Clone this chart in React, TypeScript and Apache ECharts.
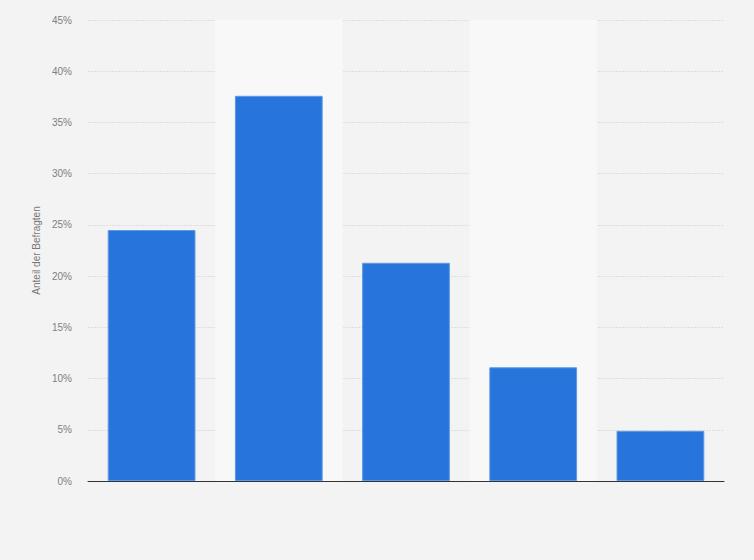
import React, { useEffect, useRef } from "react";
import * as echarts from "echarts";

const categories = ["Kategorie 1", "Kategorie 2", "Kategorie 3", "Kategorie 4", "Kategorie 5"];
const values = [24.5, 37.6, 21.3, 11.1, 4.9];
const yAxisName = "Anteil der Befragten";

export default function App() {
  const ref = useRef<HTMLDivElement>(null);
  useEffect(() => {
    document.body.style.margin = "0";
    document.body.style.background = "#f3f3f3";
    const chart = echarts.init(ref.current!, null, { renderer: "svg" });
    chart.setOption({
      animation: false,
      backgroundColor: "#f3f3f3",
      textStyle: { fontFamily: "Liberation Sans, Arial, sans-serif" },
      grid: { left: 88, right: 30, top: 20, bottom: 79 },
      xAxis: {
        type: "category",
        data: categories,
        axisLine: { show: true, lineStyle: { color: "#333", width: 1 } },
        axisTick: { show: false },
        axisLabel: { show: false },
        splitArea: { show: true, areaStyle: { color: ["rgba(0,0,0,0)", "#f8f8f8"] } },
      },
      yAxis: {
        type: "value",
        min: 0,
        max: 45,
        interval: 5,
        name: yAxisName,
        nameLocation: "middle",
        nameGap: 41,
        nameTextStyle: { color: "#777", fontSize: 10 },
        axisLine: { show: false },
        axisTick: { show: false },
        axisLabel: { formatter: "{value}%", color: "#808080", fontSize: 10, margin: 16 },
        splitLine: { show: true, lineStyle: { color: "#dedede", type: [2, 1], width: 1 } },
      },
      series: [
        {
          type: "bar",
          data: values,
          barWidth: "69%",
          itemStyle: { color: "#2775dc", borderColor: "#5d9ae6", borderWidth: 1 },
        },
      ],
    });
    return () => chart.dispose();
  }, []);
  return <div ref={ref} style={{ width: 754, height: 560 }} />;
}
